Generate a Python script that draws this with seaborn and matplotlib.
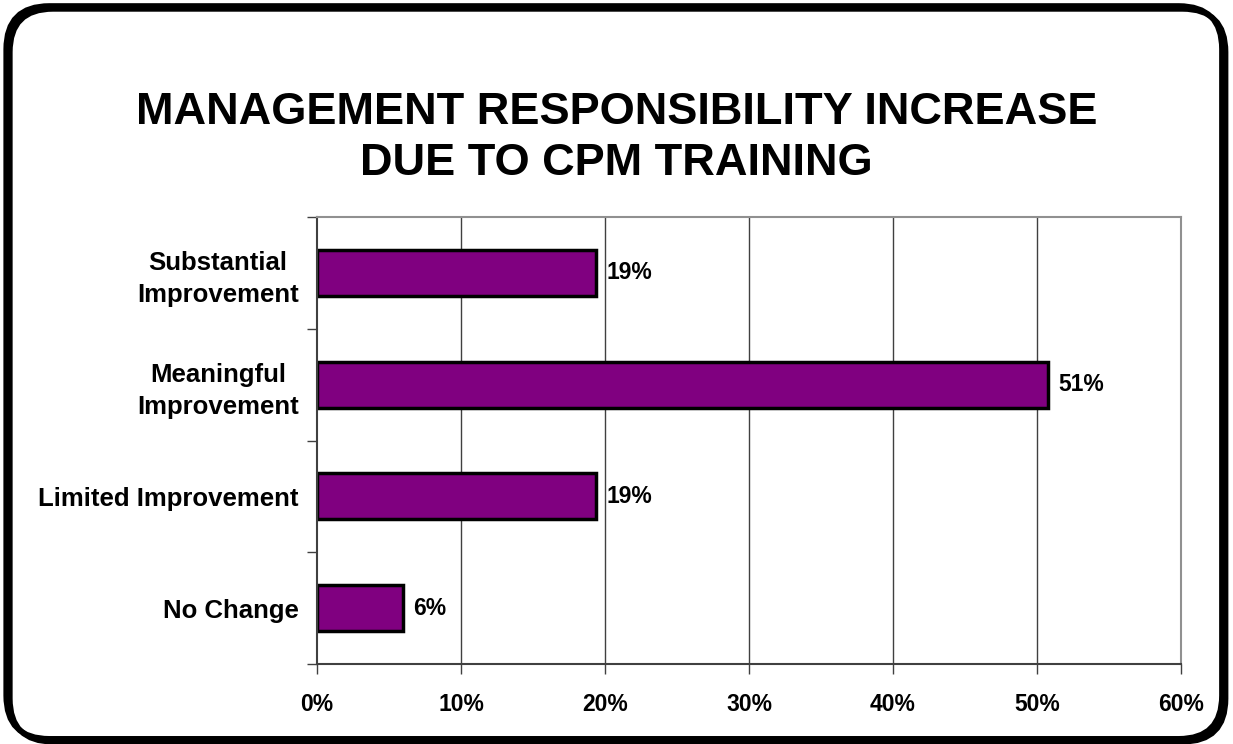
import matplotlib
matplotlib.use("Agg")
import matplotlib.pyplot as plt
import seaborn as sns
import pandas as pd
from matplotlib.patches import FancyBboxPatch
from matplotlib.ticker import PercentFormatter

# values
categories = ["Substantial\nImprovement", "Meaningful\nImprovement",
              "Limited Improvement", "No Change"]
shares = [0.194, 0.508, 0.194, 0.060]
bar_labels = ["19%", "51%", "19%", "6%"]
title = "MANAGEMENT RESPONSIBILITY INCREASE\nDUE TO CPM TRAINING"

sns.set_style("white")
plt.rcParams['font.family'] = ['Liberation Sans', 'DejaVu Sans']
plt.rcParams['text.color'] = 'black'
plt.rcParams['xtick.color'] = 'black'
plt.rcParams['ytick.color'] = 'black'

df = pd.DataFrame({"category": categories, "share": shares})

fig = plt.figure(figsize=(12.33, 7.44), dpi=100)
ax = fig.add_axes([0.2571, 0.1075, 0.7007, 0.6008])

sns.barplot(data=df, x="share", y="category", orient="h", color="#800080",
            edgecolor="black", linewidth=2.5, width=0.41, saturation=1, ax=ax)

ax.set_xlim(0, 0.6)
ax.set_ylim(3.5, -0.5)
ax.set_xticks([0, 0.1, 0.2, 0.3, 0.4, 0.5, 0.6])
ax.xaxis.set_major_formatter(PercentFormatter(1.0, decimals=0))
ax.set_xlabel("")
ax.set_ylabel("")

# vertical gridlines
for x in [0.1, 0.2, 0.3, 0.4, 0.5]:
    ax.axvline(x, color="#404040", linewidth=1, zorder=0)

for s in ["top", "right"]:
    ax.spines[s].set_color("#909090")
    ax.spines[s].set_linewidth(1.5)
for s in ["left", "bottom"]:
    ax.spines[s].set_color("#404040")
    ax.spines[s].set_linewidth(1.5)

ax.tick_params(axis="x", bottom=True, direction="out", length=7, width=1,
               color="#404040", pad=14, labelsize=16.5, labelcolor="black")
ax.tick_params(axis="y", which="major", left=True, length=0, pad=13,
               labelsize=18.5, labelcolor="black")
ax.set_yticks([-0.5, 0.5, 1.5, 2.5, 3.5], minor=True)
ax.tick_params(axis="y", which="minor", left=True, direction="out", length=7,
               width=1, color="#404040")
for lab in ax.get_xticklabels() + ax.get_yticklabels():
    lab.set_fontweight("bold")
for lab in ax.get_yticklabels():
    lab.set_horizontalalignment("right")
    lab.set_multialignment("center")
    lab.set_linespacing(1.4)

for i, (v, t) in enumerate(zip(shares, bar_labels)):
    ax.text(v + 0.007, i, t, va="center", ha="left", fontsize=16.5,
            fontweight="bold")

fig.text(0.5, 0.815, title, ha="center", va="center", fontsize=32.5,
         fontweight="bold", linespacing=1.32)

# rounded frame round the whole chart, with a small shadow
shadow = FancyBboxPatch((0.008, 0.003), 0.986, 0.985,
                        boxstyle="round,pad=0,rounding_size=0.035",
                        transform=fig.transFigure, facecolor="none",
                        edgecolor="black", linewidth=4, mutation_aspect=1.66)
frame = FancyBboxPatch((0.005, 0.007), 0.986, 0.985,
                       boxstyle="round,pad=0,rounding_size=0.035",
                       transform=fig.transFigure, facecolor="none",
                       edgecolor="black", linewidth=4, mutation_aspect=1.66)
fig.patches.append(shadow)
fig.patches.append(frame)

fig.savefig("out.png", dpi=100)
